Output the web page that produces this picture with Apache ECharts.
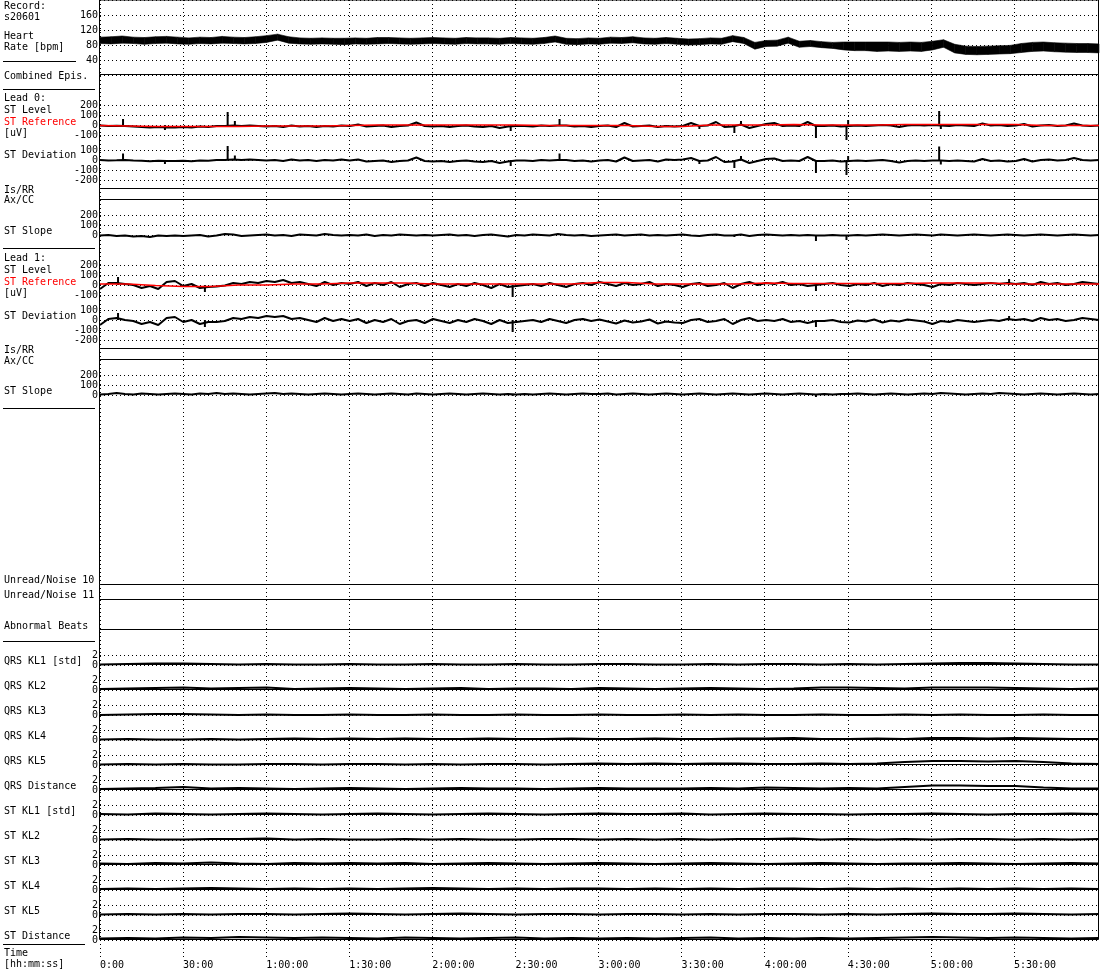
<!DOCTYPE html>
<html><head><meta charset="utf-8">
<script src="https://cdn.jsdelivr.net/npm/echarts@6/dist/echarts.min.js"></script>
<style>html,body{margin:0;padding:0;background:#fff}#c{width:1100px;height:970px}</style>
</head><body><div id="c"></div>
<script>
// ---------- tick labels ----------
const timeLabels = ['0:00','30:00','1:00:00','1:30:00','2:00:00','2:30:00','3:00:00','3:30:00','4:00:00','4:30:00','5:00:00','5:30:00'];

// ---------- heart rate band (bpm), one value every 4 min ----------
const hrStep = 4;
const hrHi = [101,102,104,101,100,102,103,101,99,101, 100,103,101,100,102,105,109,102,99,98, 99,98,98,99,98,100,100,99,98,99,
  100,99,98,100,99,99,98,100,99,98, 100,104,98,97,99,98,101,100,102,99, 98,100,98,96,97,99,98,105,100,87,
  92,93,101,90,92,89,87,88,88,88, 88,88,87,88,87,90,94,82,77,76, 77,78,79,84,87,88,86,85,84,84, 83];
const hrLo = [84,83,85,84,82,84,85,83,82,84, 83,85,84,83,84,87,93,85,83,82, 83,82,81,83,82,83,84,83,82,83,
  84,83,82,84,83,83,82,84,83,82, 84,88,82,81,83,82,85,84,86,83, 82,84,82,80,81,83,82,89,84,69,
  76,77,85,74,76,73,71,67,65,65, 63,64,63,64,63,67,74,59,55,54, 55,56,57,60,63,64,62,61,60,60, 59];

// ---------- ST traces (uV), one value every 3 min ----------
const stStep = 3;
const lead0Level = [-5,-10,-8,-10,-15,-20,-25,-20,-25,-25, -20,-25,-15,-20,-10,-10,-5,-10,-5,-10,
  -15,-10,-20,-5,-15,-10,-20,-10,-15,-5, -10,5,-15,-10,-5,-20,-10,-5,25,-10,
  -15,-10,-20,-10,-5,-15,-20,-10,-30,-15, -10,-10,-15,-5,-10,-5,-5,-15,-10,-20,
  -10,-5,-20,20,-15,-10,-5,-20,-10,-15, -10,20,-10,-5,30,-20,-15,5,-30,-10,
  10,20,-10,-5,-10,30,-10,-10,-5,-15, -10,-5,-10,-5,0,-5,-20,-5,0,-5,
  0,-5,-10,0,-5,-10,15,-5,0,-10, -5,10,-15,-5,0,-10,-5,15,-5,-10,-5];
const lead0Dev = [0,-5,-3,0,-5,-8,-12,-8,-10,-10, -8,-12,-5,-8,0,0,5,0,5,0,
  -5,0,-10,5,-5,0,-10,0,-5,5, -5,5,-15,-10,-5,-20,-10,-5,25,-10,
  -15,-10,-20,-10,-5,-15,-20,-10,-30,-15, -5,-5,-10,0,-5,0,0,-10,-5,-15,
  -5,0,-15,25,-10,-5,0,-15,5,0, 5,20,-10,-5,30,-20,-15,5,-30,-10,
  10,15,-10,-5,-10,30,-10,-10,-5,-15, -10,-5,-10,-5,0,-10,-25,-10,-5,-10,
  -5,-5,-10,-5,-10,-15,10,-10,-5,-15, -10,10,-15,0,5,-5,0,20,0,-5,0];
const lead0Slope = [-5,0,-10,-5,-15,-10,-20,-5,-10,-5, -10,-5,0,-15,-5,10,5,-10,-5,0,
  5,-5,0,-10,5,0,-5,10,0,-5, 0,-5,5,-10,0,-5,5,0,-5,0,
  -5,0,5,-5,0,-10,0,5,-5,-15, 0,-5,5,0,-5,10,0,-5,0,-10,
  -5,0,5,-5,0,5,-5,0,-5,0, 5,-5,-10,0,5,-5,-5,5,-10,0,
  5,0,-5,0,-5,0,-5,-5,0,-5, -5,0,-5,0,5,0,-5,0,5,0,
  -5,5,0,-5,0,5,0,-5,0,5, 0,-5,0,5,0,-5,0,5,0,-5,0];
const lead1Level = [-40,20,20,10,0,-30,-10,-40,30,40, -10,10,-30,-20,-15,-5,20,10,30,20,
  40,30,50,20,30,10,-10,30,0,20, 10,30,-10,20,0,30,-20,10,20,-10,
  20,0,-20,10,-10,20,0,-30,10,-20, -10,0,10,-10,20,0,-20,10,20,0,
  30,10,-10,20,0,10,30,-10,10,0, -20,10,20,-10,0,20,-30,10,30,0,
  20,10,30,0,10,-10,0,10,20,0, -10,10,0,20,-10,10,0,20,10,0,
  -20,10,0,20,10,0,10,20,10,20, 10,20,0,30,10,20,0,10,30,20,10];
const lead1Dev = [-50,10,20,0,-10,-40,-20,-50,20,30, -20,0,-40,-20,-20,-10,20,10,30,20,
  40,30,40,10,20,0,-20,20,-10,10, -10,10,-30,0,-20,10,-40,-10,0,-30,
  10,-10,-30,0,-20,10,-10,-40,0,-30, -20,-10,0,-20,10,-10,-30,0,10,-10,
  5,-15,-35,-5,-25,-15,5,-35,-15,-25, -30,0,10,-20,-10,10,-40,0,20,-10,
  0,-10,10,-20,-10,-30,-10,-10,0,-20, -25,-5,-15,5,-25,-5,-15,5,-5,-15,
  -40,-10,-20,0,-10,-20,-10,0,-10,10, 0,10,-10,20,0,10,-10,0,20,10,0];
const lead1Slope = [5,10,20,10,5,15,10,5,10,15, 10,5,15,10,20,10,15,10,5,10,
  15,20,10,15,10,5,10,15,10,5, 10,15,10,5,10,15,10,5,15,10,
  5,10,15,10,5,10,15,10,5,10, 5,10,5,10,15,10,5,10,15,10,
  10,15,5,10,15,10,5,10,15,10, 5,10,15,10,5,10,15,10,5,10,
  15,10,5,10,15,10,5,10,5,10, 10,15,10,5,10,15,10,5,10,15,
  10,20,15,10,5,10,15,10,20,15, 10,5,10,15,10,5,10,15,10,5,10];

// ---------- narrow spikes [minute, uV] ----------
const lead0LevelSpikes = [[8.3,60],[23.4,-50],[46,130],[48.6,40],[148,-60],[165.6,60],[216,-40],[228.6,-80],[231,40],[258,-130],[269,-150],[269.6,50],[302.4,140],[303,-40]];
const lead0DevSpikes = [[8.3,65],[23.4,-40],[46,140],[48.6,45],[148,-60],[165.6,65],[216,-40],[228.6,-80],[231,40],[258,-130],[269,-150],[269.6,40],[302.4,135],[303,-45]];
const lead0SlopeSpikes = [[228.6,-20],[258,-60],[269,-50]];
const lead1LevelSpikes = [[6.5,80],[37.8,-70],[148.7,-120],[258,-60],[327.6,60]];
const lead1DevSpikes = [[6.5,70],[37.8,-70],[148.7,-120],[258,-70],[327.6,40]];
const lead1SlopeSpikes = [[148.7,-10],[258,-20]];

// ---------- ST reference (uV), one value every 10 min ----------
const refStep = 10;
const lead0Ref = [-5,-10,-15,-15,-15,-15,-10,-10,-10,-5, 0,0,0,0,0,0,-5,-5,-5,-5, -15,-15,0,0,0,5,0,0,0,5, 5,5,5,5,-5,-5,-5];
const lead1Ref = [10,10,-5,-15,-15,0,0,10,10,20, 20,20,10,10,10,10,10,10,25,25, 10,10,10,10,20,15,15,15,15,15, 20,20,20,10,10,10,10];

// ---------- KL traces [std], one value every 10 min ----------
const klStep = 10;
const qrsKL1 = [0.1,0.2,0.3,0.3,0.2,0.1,0.2,0.1,0.1,0.2, 0.1,0.1,0.2,0.1,0.1,0.2,0.1,0.1,0.2,0.2, 0.1,0.1,0.2,0.1,0.2,0.2,0.1,0.2,0.1,0.2, 0.3,0.4,0.4,0.3,0.2,0.1,0.1];
const qrsKL2 = [0.2,0.3,0.4,0.5,0.3,0.4,0.5,0.2,0.3,0.4, 0.3,0.2,0.3,0.4,0.2,0.3,0.3,0.2,0.4,0.3, 0.2,0.3,0.4,0.3,0.2,0.3,0.5,0.5,0.4,0.3, 0.5,0.5,0.5,0.4,0.3,0.2,0.3];
const qrsKL3 = [0,0.1,0.2,0.2,0.1,0,0.1,0,0,0.1, 0,0,0.1,0,0,0.1,0,0,0.1,0, 0,0.1,0,0.1,0,0,0.1,0,0,0.1, 0,0.1,0,0,0.1,0,0];
const qrsKL4 = [0.1,0.2,0.1,0.1,0.2,0.1,0.2,0.3,0.2,0.3, 0.2,0.3,0.2,0.2,0.3,0.2,0.2,0.3,0.2,0.2, 0.3,0.2,0.2,0.3,0.3,0.4,0.2,0.2,0.3,0.2, 0.4,0.4,0.3,0.4,0.3,0.2,0.2];
const qrsKL5 = [0.1,0.2,0.1,0.2,0.1,0.1,0.2,0.2,0.1,0.2, 0.2,0.1,0.2,0.1,0.2,0.2,0.1,0.2,0.3,0.2, 0.3,0.2,0.3,0.3,0.2,0.2,0.3,0.2,0.3,0.6, 0.8,0.8,0.7,0.8,0.6,0.3,0.2];
const qrsDist = [0.2,0.3,0.4,0.6,0.3,0.4,0.3,0.2,0.3,0.4, 0.3,0.2,0.3,0.4,0.3,0.3,0.2,0.3,0.4,0.3, 0.3,0.3,0.4,0.3,0.5,0.4,0.3,0.4,0.3,0.6, 0.9,0.9,0.8,0.8,0.5,0.3,0.3];
const stKL1 = [0.2,0.1,0.3,0.2,0.1,0.2,0.3,0.2,0.1,0.2, 0.3,0.2,0.1,0.2,0.3,0.2,0.1,0.2,0.3,0.2, 0.2,0.3,0.1,0.2,0.3,0.2,0.2,0.1,0.2,0.2, 0.3,0.2,0.1,0.2,0.2,0.3,0.2];
const stKL2 = [0.1,0.2,0.1,0.1,0.2,0.2,0.3,0.1,0.2,0.1, 0.1,0.2,0.1,0.2,0.1,0.1,0.2,0.2,0.1,0.2, 0.1,0.2,0.1,0.2,0.2,0.3,0.1,0.2,0.1,0.2, 0.1,0.2,0.2,0.1,0.2,0.1,0.2];
const stKL3 = [0.3,0.2,0.4,0.3,0.5,0.3,0.2,0.4,0.3,0.4, 0.3,0.4,0.2,0.3,0.4,0.3,0.2,0.3,0.4,0.3, 0.2,0.3,0.4,0.3,0.2,0.3,0.4,0.3,0.2,0.3, 0.3,0.4,0.3,0.2,0.3,0.4,0.3];
const stKL4 = [0.2,0.3,0.2,0.3,0.4,0.3,0.2,0.3,0.2,0.3, 0.2,0.3,0.4,0.3,0.2,0.3,0.2,0.3,0.3,0.2, 0.3,0.2,0.3,0.2,0.3,0.3,0.2,0.3,0.2,0.3, 0.2,0.3,0.2,0.3,0.2,0.3,0.2];
const stKL5 = [0.1,0.2,0.1,0.2,0.1,0.2,0.2,0.1,0.2,0.3, 0.2,0.1,0.2,0.3,0.2,0.1,0.2,0.2,0.1,0.2, 0.2,0.1,0.2,0.1,0.2,0.2,0.1,0.2,0.1,0.2, 0.3,0.2,0.2,0.3,0.2,0.1,0.2];
const stDist = [0.3,0.4,0.3,0.5,0.4,0.6,0.5,0.4,0.5,0.4, 0.3,0.5,0.4,0.3,0.4,0.5,0.3,0.4,0.3,0.4, 0.3,0.4,0.5,0.3,0.4,0.3,0.4,0.3,0.4,0.5, 0.6,0.5,0.4,0.5,0.4,0.3,0.4];

const klNames = ['QRS KL1 [std]','QRS KL2','QRS KL3','QRS KL4','QRS KL5','QRS Distance','ST KL1 [std]','ST KL2','ST KL3','ST KL4','ST KL5','ST Distance'];
const klData = [qrsKL1,qrsKL2,qrsKL3,qrsKL4,qrsKL5,qrsDist,stKL1,stKL2,stKL3,stKL4,stKL5,stDist];

// ---------- build ----------
const FONT = 'DejaVu Sans Mono';
const DOT = [1,3];
const grids=[], xAxes=[], yAxes=[], series=[];
function pairs(arr, step){ return arr.map((v,i)=>[i*step, v]); }
function addGrid(top, height, y) {
  const gi = grids.length;
  grids.push({left:100, width:999, top, height, show:false});
  xAxes.push({type:'value', gridIndex:gi, min:0, max:360, show:false});
  yAxes.push({type:'value', gridIndex:gi, min:y.min, max:y.max, interval:y.interval,
    axisLine:{show:false}, axisTick:{show:false},
    axisLabel:{show:true, fontFamily:FONT, fontSize:10, color:'#000', margin:2,
      showMinLabel: !y.hideEnds, showMaxLabel: !y.hideEnds},
    splitLine:{show:true, lineStyle:{color:'#000', width:1, type:DOT}}});
  return gi;
}
function addBorder(top, height) {
  const gi = grids.length;
  grids.push({left:99.5, width:999, top:top-0.5, height, show:true, borderColor:'#000', borderWidth:1, backgroundColor:'transparent', z:1});
  xAxes.push({type:'value', gridIndex:gi, show:false, min:0, max:1});
  yAxes.push({type:'value', gridIndex:gi, show:false, min:0, max:1});
}
function addLine(gi, data, color, width, z) {
  series.push({type:'line', xAxisIndex:gi, yAxisIndex:gi, data, showSymbol:false, symbol:'none', clip:false,
    lineStyle:{color, width}, itemStyle:{color}, z: z||2, silent:true});
}
function addSpikes(gi, spikes) {
  series.push({type:'custom', xAxisIndex:gi, yAxisIndex:gi, data:spikes, encode:{x:0, y:1}, clip:false, silent:true, z:2,
    renderItem:(params, api)=>{
      const p0 = api.coord([api.value(0), 0]), p1 = api.coord([api.value(0), api.value(1)]);
      return {type:'line', shape:{x1:p0[0], y1:p0[1], x2:p1[0], y2:p1[1]}, style:{stroke:'#000', lineWidth:2}};
    }});
}

// background grid with vertical dotted time lines and the time labels
grids.push({left:100, width:999, top:0, height:958, show:false});
xAxes.push({type:'value', gridIndex:0, min:0, max:360, interval:30,
  axisLine:{show:false}, axisTick:{show:false},
  axisLabel:{fontFamily:FONT, fontSize:10, color:'#000', margin:3, align:'left',
    formatter:(v)=> (timeLabels[Math.round(v/30)] !== undefined ? timeLabels[Math.round(v/30)] : '')},
  splitLine:{show:true, showMaxLine:false, lineStyle:{color:'#000', width:1, type:DOT}}});
yAxes.push({type:'value', gridIndex:0, show:false, min:0, max:1});

// panel borders
[[0,75],[75,114],[189,11],[200,149],[349,11],[360,225],[585,15],[600,30],[630,35]].forEach(b=>addBorder(b[0],b[1]));
for (let k=0;k<11;k++) addBorder(665+25*k, 25);

// Heart rate band
const gHR = addGrid(0, 75, {min:0, max:200, interval:40, hideEnds:true});
series.push({type:'custom', xAxisIndex:gHR, yAxisIndex:gHR, clip:false, silent:true, z:2,
  data: hrLo.map((v,i)=>[i*hrStep, v, hrHi[i]]), encode:{x:0, y:[1,2]},
  renderItem:(params, api)=>{
    const i = params.dataIndex;
    if (i >= hrLo.length-1) return {type:'group', children:[]};
    const a = api.coord([i*hrStep, hrLo[i]]), b = api.coord([i*hrStep, hrHi[i]]);
    const c = api.coord([(i+1)*hrStep, hrHi[i+1]]), d = api.coord([(i+1)*hrStep, hrLo[i+1]]);
    return {type:'polygon', shape:{points:[a,b,c,d]}, style:{fill:'#000', stroke:'#000', lineWidth:0.6}};
  }});

// Lead 0
const gL0 = addGrid(105, 30, {min:-100, max:200, interval:100});
addLine(gL0, pairs(lead0Level, stStep), '#000', 2);
addSpikes(gL0, lead0LevelSpikes);
addLine(gL0, pairs(lead0Ref, refStep), '#ff0000', 1.6, 3);
const gL0d = addGrid(150, 30, {min:-200, max:100, interval:100});
addLine(gL0d, pairs(lead0Dev, stStep), '#000', 2);
addSpikes(gL0d, lead0DevSpikes);
const gL0s = addGrid(215, 20, {min:0, max:200, interval:100});
addLine(gL0s, pairs(lead0Slope, stStep), '#000', 2);
addSpikes(gL0s, lead0SlopeSpikes);

// Lead 1
const gL1 = addGrid(265, 30, {min:-100, max:200, interval:100});
addLine(gL1, pairs(lead1Level, stStep), '#000', 2);
addSpikes(gL1, lead1LevelSpikes);
addLine(gL1, pairs(lead1Ref, refStep), '#ff0000', 1.6, 3);
const gL1d = addGrid(310, 30, {min:-200, max:100, interval:100});
addLine(gL1d, pairs(lead1Dev, stStep), '#000', 2);
addSpikes(gL1d, lead1DevSpikes);
const gL1s = addGrid(375, 20, {min:0, max:200, interval:100});
addLine(gL1s, pairs(lead1Slope, stStep), '#000', 2);
addSpikes(gL1s, lead1SlopeSpikes);

// KL panels
klData.forEach((arr,k)=>{
  const g = addGrid(655+25*k, 10, {min:0, max:2, interval:2});
  addLine(g, pairs(arr, klStep), '#000', 1.8);
});

// left labels
const texts = [
  ['Record:',6],['s20601',17],['Heart',36],['Rate [bpm]',47],['Combined Epis.',76],
  ['Lead 0:',98],['ST Level',110],['ST Reference',122,'#ff0000'],['[uV]',133],['ST Deviation',155],
  ['Is/RR',190],['Ax/CC',200],['ST Slope',231],
  ['Lead 1:',258],['ST Level',270],['ST Reference',282,'#ff0000'],['[uV]',293],['ST Deviation',316],
  ['Is/RR',350],['Ax/CC',361],['ST Slope',391],
  ['Unread/Noise 10',580],['Unread/Noise 11',595],['Abnormal Beats',626],
  ['Time',953],['[hh:mm:ss]',964]
];
klNames.forEach((n,k)=>texts.push([n, 661+25*k]));
const seps = [[3,76,61],[3,95,89],[3,95,248],[3,95,408],[3,95,641],[3,85,944]];
const graphic = [];
texts.forEach(t=>graphic.push({type:'text', x:4, y:t[1], silent:true,
  style:{text:t[0], font:'10px "DejaVu Sans Mono"', fill:t[2]||'#000', textVerticalAlign:'middle', verticalAlign:'middle'}}));
seps.forEach(s=>graphic.push({type:'line', silent:true, shape:{x1:s[0], y1:s[2]+0.5, x2:s[1], y2:s[2]+0.5}, style:{stroke:'#000', lineWidth:1}}));

const chart = echarts.init(document.getElementById('c'), null, {renderer:'canvas'});
chart.setOption({
  animation:false, backgroundColor:'#fff',
  grid:grids, xAxis:xAxes, yAxis:yAxes, series, graphic:{elements:graphic}
});
</script></body></html>
